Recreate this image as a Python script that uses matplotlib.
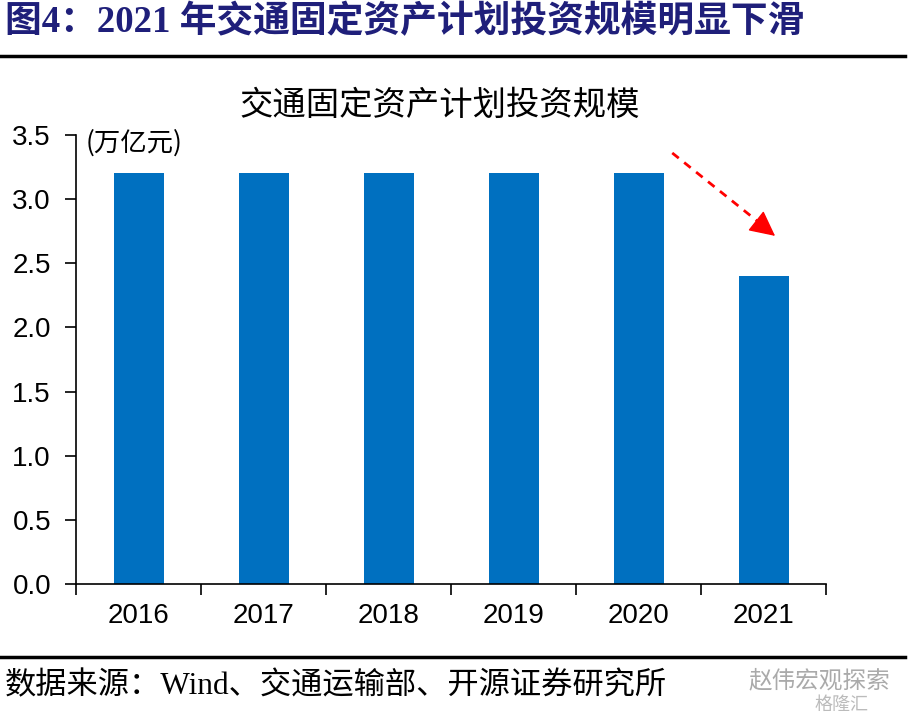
import numpy as np
import matplotlib.pyplot as plt
from matplotlib.lines import Line2D

plt.rcParams['font.family'] = ['Liberation Sans', 'Noto Sans CJK SC', 'DejaVu Sans']

# data
years = ['2016', '2017', '2018', '2019', '2020', '2021']
invest = [3.2, 3.2, 3.2, 3.2, 3.2, 2.4]  # 万亿元
yticks = [0.0, 0.5, 1.0, 1.5, 2.0, 2.5, 3.0, 3.5]

fig = plt.figure(figsize=(9.1, 7.17), dpi=100)
ax = fig.add_axes([76/910, 1-584/717, 750/910, 449/717])

x = np.arange(len(years))
ax.bar(x, invest, width=0.4, color='#0070C0')

ax.set_xlim(-0.5, len(years)-0.5)
ax.set_ylim(0, 3.5)
ax.set_yticks(yticks)
ax.set_yticklabels(['%.1f' % v for v in yticks], fontsize=20)
ax.set_xticks(x)
ax.set_xticklabels(years, fontsize=20)
ax.set_xticks(np.arange(-0.5, len(years)), minor=True)
ax.tick_params(axis='x', which='major', length=0, pad=14)
ax.tick_params(axis='x', which='minor', length=8, width=1.2, direction='out')
ax.tick_params(axis='y', length=8, width=1.2, direction='out', pad=10)
for s in ['top', 'right']:
    ax.spines[s].set_visible(False)
ax.spines['left'].set_linewidth(1.2)
ax.spines['bottom'].set_linewidth(1.2)

# chart title and unit
fig.text(440/910, 1-105/717, '交通固定资产计划投资规模', fontsize=24,
         ha='center', va='center', family=['Noto Sans CJK SC'])
fig.text(86/910, 1-143/717, '(万亿元)', fontsize=19, ha='left', va='center',
         family=['Noto Sans CJK SC'])

# red dashed arrow: dashed shaft + solid head
ax.plot([4.27, 5.0], [3.36, 2.79], color='#FF0000', lw=2, linestyle=(0, (3, 2.5)))
ax.annotate('', xy=(5.11, 2.7), xytext=(4.98, 2.80),
            arrowprops=dict(arrowstyle='-|>,head_length=1.6,head_width=0.8',
                            color='#FF0000', lw=1))

# header
fig.text(5/910, 1-22/717, '图4：2021 年交通固定资产计划投资规模明显下滑', fontsize=26.5,
         fontweight='bold', color='#1F1F7A', ha='left', va='center',
         family=['Liberation Serif', 'Noto Sans CJK SC'])
fig.add_artist(Line2D([0, 905/910], [1-56/717, 1-56/717], color='black', lw=2.5))
fig.add_artist(Line2D([0, 905/910], [1-657/717, 1-657/717], color='black', lw=2.5))

# source
fig.text(5/910, 1-687/717, '数据来源：Wind、交通运输部、开源证券研究所', fontsize=22.5,
         ha='left', va='center', family=['Liberation Serif', 'Noto Sans CJK SC'])
fig.text(748/910, 1-681/717, '赵伟宏观探索', fontsize=17, color='#AAAAAA',
         ha='left', va='center', family=['Noto Sans CJK SC'])
fig.text(815/910, 1-705/717, '格隆汇', fontsize=13, color='#BBBBBB',
         ha='left', va='center', family=['Noto Sans CJK SC'])

fig.savefig('out.png', dpi=100)
